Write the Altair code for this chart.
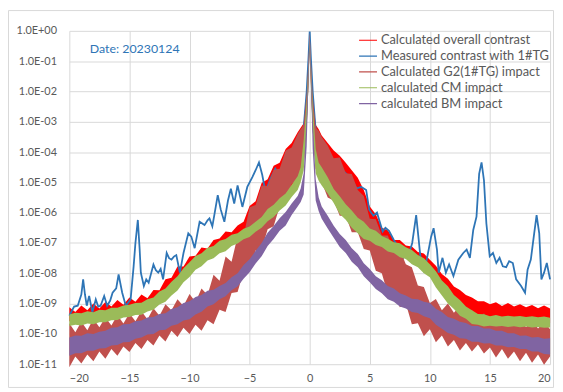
import altair as alt
import pandas as pd

SERIES = ["Calculated overall contrast", "Measured contrast with 1#TG",
          "Calculated G2(1#TG) impact", "calculated CM impact", "calculated BM impact"]
COLORS = ["#FF0000", "#2E75B6", "#C0504D", "#9BBB59", "#8064A2"]

X_TICKS = [-20, -15, -10, -5, 0, 5, 10, 15, 20]
Y_TICKS = [1e-11, 1e-10, 1e-9, 1e-8, 1e-7, 1e-6, 1e-5, 1e-4, 1e-3, 1e-2, 1e-1, 1e0]

# x positions of the envelope readings (noisy series drawn as bands)
XB = [-20, -19.5, -19, -18.5, -18, -17.5, -17, -16.5, -16, -15.5, -15, -14.5, -14, -13.5, -13,
      -12.5, -12, -11.5, -11, -10.5, -10, -9.5, -9, -8.5, -8, -7.5, -7, -6.5, -6, -5.5, -5,
      -4.5, -4, -3.5, -3, -2.5, -2, -1.5,
      -1, -0.75, -0.5, -0.25, -0.1, 0, 0.1, 0.25, 0.5, 0.75, 1,
      1.5, 2, 2.5, 3, 3.5, 4, 4.5, 5, 5.5, 6, 6.5, 7, 7.5, 8, 8.5, 9, 9.5, 10, 10.5, 11, 11.5,
      12, 12.5, 13, 13.5, 14, 14.5, 15, 15.5, 16, 16.5, 17, 17.5, 18, 18.5, 19, 19.5, 20]

# log10 of contrast, lower / upper edge of each noisy trace
RED_HI = [-9.12, -9.28, -9.06, -9.22, -9.0, -9.16, -8.95, -9.1, -8.88, -9.04,
          -8.8, -8.94, -8.7, -8.82, -8.55, -8.56, -8.2, -8.15, -7.78, -7.78,
          -7.45, -7.42, -7.15, -7.18, -6.9, -6.85, -6.62, -6.65, -6.42, -6.3,
          -5.78, -5.62, -5.02, -4.9, -4.45, -4.35, -3.9, -3.7,
          -3.35, -3.2, -3.05, -2.0, -0.9, -0.05, -0.9, -2.1, -3.1, -3.25, -3.45,
          -3.7, -3.95, -4.12, -4.35, -4.6, -4.85, -5.25, -5.8, -6.05, -6.5,
          -6.58, -6.9, -6.9, -7.08, -7.12, -7.3, -7.35, -7.55, -7.75, -8.02,
          -8.18, -8.44, -8.55, -8.72, -8.8, -8.92, -8.92, -9.02, -8.96, -9.08,
          -8.98, -9.1, -9.02, -9.12, -9.05, -9.15, -9.06, -9.16]
RED_LO = [-9.58, -9.57, -9.55, -9.53, -9.51, -9.49, -9.45, -9.41, -9.37, -9.32, -9.27, -9.25, -9.2,
          -9.13, -9.03, -8.9, -8.77, -8.6, -8.4, -8.17, -7.95, -7.75, -7.6, -7.45, -7.33, -7.21,
          -7.1, -6.97, -6.85, -6.75, -6.63, -6.5, -6.33, -6.15, -5.97, -5.8, -5.59, -5.35,
          -5.1, -4.85, -4.45, -3.1, -1.7, -0.35, -1.7, -3.2, -4.55, -4.8, -4.95,
          -5.2, -5.55, -5.87, -6.1, -6.33, -6.55, -6.7, -6.8, -6.9, -7.0, -7.11, -7.2, -7.3, -7.4,
          -7.53, -7.67, -7.83, -8.0, -8.3, -8.6, -8.83, -9.05, -9.23, -9.37, -9.5, -9.57, -9.59,
          -9.6, -9.59, -9.61, -9.6, -9.62, -9.61, -9.63, -9.62, -9.63, -9.64, -9.65]
BROWN_HI = [-9.65, -9.95, -9.6, -9.88, -9.5, -9.78, -9.45, -9.72, -9.38, -9.66,
            -9.32, -9.58, -9.25, -9.52, -9.15, -9.4, -9.02, -9.22, -8.86, -9.08,
            -8.68, -8.95, -8.5, -8.72, -8.05, -8.25, -7.45, -7.62, -6.78, -6.78,
            -5.82, -5.75, -5.1, -5.12, -4.58, -4.55, -3.95, -3.85,
            -3.4, -3.25, -3.1, -2.05, -0.95, -0.08, -0.95, -2.15, -3.2, -3.3, -3.5,
            -3.78, -4.2, -4.18, -4.7, -4.72, -5.25, -5.45, -6.2, -6.22, -6.75,
            -6.75, -7.25, -7.22, -7.7, -7.8, -8.4, -8.45, -8.98, -8.85, -9.22,
            -9.0, -9.3, -9.08, -9.4, -9.2, -9.55, -9.32, -9.62, -9.4, -9.7,
            -9.45, -9.72, -9.5, -9.78, -9.55, -9.82, -9.6, -9.85]
BROWN_LO = [-11.1, -10.75, -10.98, -10.68, -10.9, -10.58, -10.82, -10.5, -10.72, -10.42,
            -10.6, -10.3, -10.5, -10.2, -10.38, -10.05, -10.25, -9.9, -10.1, -9.8,
            -10.0, -9.7, -9.9, -9.55, -9.68, -9.2, -9.28, -8.65, -8.62, -7.95,
            -7.92, -7.25, -7.22, -6.55, -6.45, -5.8, -5.65, -5.05,
            -4.9, -4.7, -4.2, -3.2, -1.8, -0.4, -1.8, -3.3, -4.4, -4.75, -5.0,
            -5.5, -5.6, -6.1, -6.1, -6.65, -6.65, -7.2, -7.25, -7.92, -8.0,
            -8.68, -8.6, -9.12, -9.0, -9.68, -9.65, -10.08, -9.85, -10.28, -10.05,
            -10.42, -10.2, -10.55, -10.3, -10.58, -10.35, -10.65, -10.45, -10.78, -10.5,
            -10.82, -10.58, -10.9, -10.62, -10.95, -10.68, -11.02, -10.75]
GREEN_HI = [-9.36, -9.3, -9.32, -9.25, -9.29, -9.2, -9.22, -9.14, -9.14, -9.06, -9.04, -8.98, -8.97,
            -8.86, -8.8, -8.6, -8.5, -8.28, -8.1, -7.83, -7.64, -7.43, -7.34, -7.16, -7.1, -6.93,
            -6.87, -6.73, -6.68, -6.53, -6.46, -6.3, -6.14, -5.88, -5.74, -5.52, -5.37, -5.08,
            -4.8, -4.5, -3.6, -2.3, -1.1, -0.1, -1.1, -2.4, -3.9, -4.35, -4.5,
            -4.83, -5.22, -5.46, -5.72, -5.93, -6.17, -6.3, -6.52, -6.6, -6.77, -6.86, -6.98, -7.01,
            -7.14, -7.23, -7.4, -7.5, -7.7, -7.93, -8.24, -8.43, -8.72, -8.88, -9.1, -9.22, -9.34,
            -9.35, -9.42, -9.38, -9.43, -9.4, -9.43, -9.41, -9.44, -9.42, -9.45, -9.43, -9.47]
GREEN_LO = [-9.74, -9.7, -9.72, -9.66, -9.68, -9.62, -9.62, -9.55, -9.54, -9.46, -9.44, -9.38, -9.37,
            -9.26, -9.2, -9.03, -8.94, -8.73, -8.57, -8.3, -8.12, -7.88, -7.77, -7.58, -7.5, -7.34,
            -7.27, -7.1, -7.02, -6.88, -6.8, -6.63, -6.5, -6.28, -6.14, -5.93, -5.76, -5.48,
            -5.25, -5.0, -4.6, -3.2, -1.8, -0.4, -1.8, -3.3, -4.7, -4.95, -5.1,
            -5.37, -5.68, -6.04, -6.23, -6.5, -6.68, -6.87, -6.93, -7.07, -7.13, -7.28, -7.33, -7.47,
            -7.53, -7.7, -7.8, -8.0, -8.13, -8.47, -8.73, -9.0, -9.18, -9.4, -9.5, -9.67, -9.7,
            -9.76, -9.73, -9.76, -9.74, -9.77, -9.75, -9.78, -9.76, -9.79, -9.77, -9.8, -9.79]
PURPLE_HI = [-10.12, -10.05, -10.06, -9.98, -10.0, -9.93, -9.9, -9.8, -9.78, -9.68, -9.67, -9.58,
             -9.56, -9.46, -9.44, -9.34, -9.32, -9.18, -9.12, -8.98, -8.92, -8.78, -8.72, -8.58,
             -8.54, -8.42, -8.32, -8.13, -8.0, -7.73, -7.54, -7.26, -7.0, -6.66, -6.44, -6.18,
             -5.98, -5.7,
             -5.45, -5.2, -4.7, -2.8, -1.0, -0.02, -1.0, -2.9, -4.9, -5.5, -5.8,
             -6.1, -6.43, -6.7, -6.9, -7.17, -7.36, -7.67, -7.86, -8.1, -8.23, -8.42, -8.5, -8.66,
             -8.73, -8.84, -8.86, -8.94, -8.98, -9.17, -9.28, -9.44, -9.5, -9.6, -9.64, -9.74,
             -9.74, -9.82, -9.82, -9.9, -9.9, -9.98, -9.98, -10.06, -10.05, -10.12, -10.1, -10.16,
             -10.14]
PURPLE_LO = [-10.72, -10.64, -10.64, -10.56, -10.56, -10.48, -10.47, -10.38, -10.37, -10.28, -10.27,
             -10.16, -10.12, -10.02, -10.0, -9.88, -9.86, -9.73, -9.68, -9.56, -9.52, -9.36, -9.27,
             -9.1, -9.02, -8.86, -8.76, -8.56, -8.44, -8.18, -7.97, -7.68, -7.44, -7.1, -6.87,
             -6.6, -6.42, -6.08,
             -5.8, -5.65, -5.4, -3.8, -1.6, -0.3, -1.6, -3.9, -5.6, -5.95, -6.2,
             -6.52, -6.83, -7.13, -7.33, -7.62, -7.8, -8.1, -8.3, -8.52, -8.66, -8.86, -8.94, -9.1,
             -9.16, -9.28, -9.31, -9.42, -9.48, -9.7, -9.83, -9.97, -10.03, -10.14, -10.16, -10.26,
             -10.26, -10.32, -10.31, -10.38, -10.38, -10.44, -10.43, -10.5, -10.5, -10.58, -10.58,
             -10.66, -10.68]

# measured contrast (blue), log10
BLUE_X = [-20, -19.6, -19.3, -19.0, -18.85, -18.7, -18.55, -18.35, -18.08, -17.8,
          -17.6, -17.4, -17.1, -16.85, -16.6, -16.4, -16.1, -15.9, -15.6, -15.3,
          -14.9, -14.65, -14.5, -14.3, -14.15, -14.05, -13.8, -13.6, -13.4, -13.0,
          -12.8, -12.6, -12.4, -12.2, -11.9, -11.7, -11.5, -11.3, -11.1, -10.8,
          -10.5, -10.1, -9.85, -9.57, -9.16, -8.75, -8.5, -8.34, -8.1, -7.9,
          -7.65, -7.4, -7.1, -6.8, -6.56, -6.28, -6.0, -5.6, -5.19, -4.77,
          -4.5, -4.22, -3.95, -3.68, -3.27, -2.86, -2.58, -2.0, -1.5, -1.0,
          -0.5, -0.25, -0.1, 0, 0.1, 0.25, 0.5, 1.0, 1.5, 2.0,
          2.5, 3.0, 3.5, 3.9, 4.3, 4.7, 4.95, 5.3, 5.6, 6.07,
          6.3, 6.6, 7.0, 7.3, 7.7, 7.9, 8.2, 8.53, 8.86, 9.2,
          9.5, 9.63, 9.9, 10.1, 10.31, 10.59, 10.73, 11.05, 11.33, 11.6,
          11.96, 12.37, 12.78, 13.06, 13.33, 13.61, 13.88, 14.1, 14.3, 14.5,
          14.7, 14.98, 15.25, 15.53, 15.8, 16.07, 16.35, 16.6, 16.9, 17.18,
          17.59, 17.92, 18.13, 18.4, 18.68, 18.88, 19.1, 19.28, 19.5, 19.73,
          20]
BLUE_Y = [-9.40, -9.1, -9.07, -8.7, -8.2, -8.7, -9.07, -8.75, -9.29, -8.86,
          -9.1, -9.07, -8.75, -9.07, -8.9, -8.64, -8.5, -8.04, -8.64, -9.07,
          -8.86, -7.77, -7.0, -6.24, -7.2, -7.98, -8.42, -8.2, -8.31, -7.71,
          -7.9, -7.98, -7.85, -8.2, -7.33, -7.5, -7.55, -7.45, -7.4, -7.98,
          -7.33, -6.68, -6.79, -7.17, -6.30, -6.41, -6.25, -6.19, -6.45, -6.0,
          -5.42, -5.9, -6.30, -5.6, -5.21, -5.70, -5.10, -5.81, -5.15, -4.83,
          -4.6, -4.34, -4.75, -5.32, -4.88, -4.55, -4.75, -4.3, -4.0, -3.8,
          -3.2, -2.0, -0.9, -0.02, -0.9, -2.0, -3.3, -3.9, -4.1, -4.35,
          -4.5, -4.7, -4.9, -5.2, -5.15, -5.25, -5.9, -6.1, -6.0, -6.62,
          -6.5, -6.6, -6.9, -7.1, -7.55, -7.4, -7.45, -7.0, -6.08, -7.4,
          -7.9, -7.77, -7.22, -6.8, -6.51, -7.22, -7.98, -7.49, -7.98, -7.71,
          -8.09, -7.55, -7.33, -7.22, -7.49, -6.57, -6.13, -4.72, -4.34, -4.93,
          -6.35, -7.44, -7.33, -7.66, -7.49, -7.77, -7.8, -7.6, -7.66, -8.2,
          -8.42, -8.64, -7.88, -7.55, -6.68, -6.08, -6.68, -8.2, -7.98, -7.66,
          -8.2]

DATE_TEXT = "Date: 20230124"
FONT = "Lato"
GREY = "#595959"


def band(name, lo, hi):
    return pd.DataFrame({"x": XB, "lo": [10 ** v for v in lo],
                         "hi": [10 ** v for v in hi], "series": name})


color_legend = alt.Color("series:N", scale=alt.Scale(domain=SERIES, range=COLORS),
                         legend=alt.Legend(title=None, orient="none", legendX=292, legendY=3,
                                           symbolType="stroke", symbolSize=330,
                                           symbolStrokeWidth=1.2,
                                           clipHeight=13, rowPadding=2, labelLimit=300,
                                           labelFont=FONT, labelFontSize=13, labelColor=GREY,
                                           labelOffset=3))

xs = alt.X("x:Q", scale=alt.Scale(domain=[-20, 20], nice=False),
           axis=alt.Axis(values=X_TICKS, title=None, format="d", labelPadding=9))
ys_scale = alt.Scale(type="log", domain=[1e-11, 1], nice=False)
y_axis = alt.Axis(values=Y_TICKS, title=None, labelPadding=13,
                  labelExpr="'1.0E' + (datum.value >= 1 ? '+' : '-') + "
                            "(abs(round(log(datum.value)/LN10)) < 10 ? '0' : '') + "
                            "abs(round(log(datum.value)/LN10))")


def area_layer(df, col):
    return alt.Chart(df).mark_area(opacity=1, interpolate="linear", color=col).encode(
        x=xs, y=alt.Y("lo:Q", scale=ys_scale, axis=y_axis), y2="hi:Q")


red = area_layer(band(SERIES[0], RED_LO, RED_HI), COLORS[0])
brown = area_layer(band(SERIES[2], BROWN_LO, BROWN_HI), COLORS[2])
green = area_layer(band(SERIES[3], GREEN_LO, GREEN_HI), COLORS[3])
purple = area_layer(band(SERIES[4], PURPLE_LO, PURPLE_HI), COLORS[4])

blue_df = pd.DataFrame({"x": BLUE_X, "y": [10 ** v for v in BLUE_Y], "series": SERIES[1]})
blue = alt.Chart(blue_df).mark_line(strokeWidth=1.8, interpolate="linear").encode(
    x=xs, y=alt.Y("y:Q", scale=ys_scale, axis=y_axis), color=color_legend)

date_df = pd.DataFrame({"x": [-18.3], "y": [0.25], "t": [DATE_TEXT]})
date = alt.Chart(date_df).mark_text(align="left", baseline="middle", font=FONT,
                                    fontSize=12.5, color="#2E75B6").encode(
    x=alt.X("x:Q", scale=alt.Scale(domain=[-20, 20], nice=False)),
    y=alt.Y("y:Q", scale=ys_scale), text="t:N")

frame = alt.Chart(date_df).mark_rect(fillOpacity=0, stroke="#D9D9D9", strokeWidth=1).encode(
    x=alt.value(-61.5), x2=alt.value(489.5), y=alt.value(-20.5), y2=alt.value(360.5))

chart = alt.layer(red, blue, brown, green, purple, date, frame).properties(
    width=486, height=337,
    autosize=alt.AutoSizeParams(type="none"),
    padding={"left": 62, "top": 21, "right": 5, "bottom": 25},
    background="white",
).configure_view(strokeWidth=0).configure_axis(
    gridColor="#D9D9D9", gridWidth=1, domain=False, ticks=False, tickSize=0,
    labelFont=FONT, labelFontSize=11, labelColor=GREY,
)

chart.save("out.html", embed_options={"renderer": "svg", "actions": False})
